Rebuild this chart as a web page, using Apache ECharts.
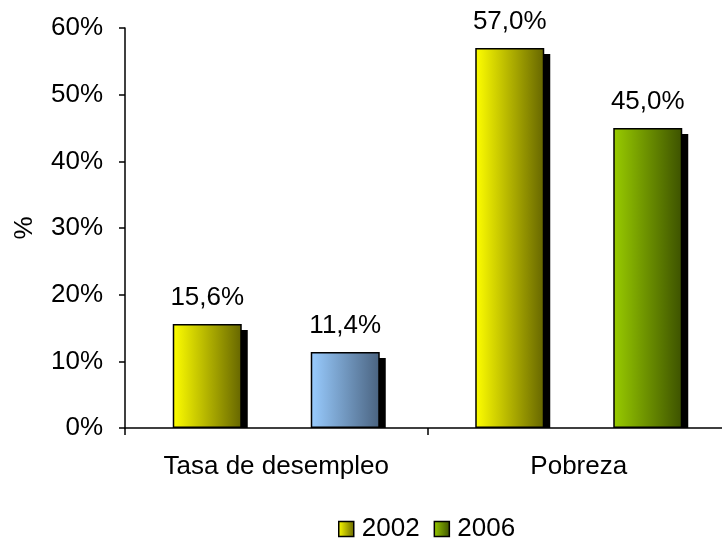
<!DOCTYPE html>
<html>
<head>
<meta charset="utf-8">
<script src="https://cdn.jsdelivr.net/npm/echarts@6/dist/echarts.min.js"></script>
<style>
  html, body { margin: 0; padding: 0; background: #fff; }
  #chart { width: 722px; height: 540px; }
</style>
</head>
<body>
<div id="chart"></div>
<script>
// categorias y valores
const categories = ["Tasa de desempleo", "Pobreza"];
const years = ["2002", "2006"];
const values2002 = [15.6, 57.0];
const values2006 = [11.4, 45.0];
const yTicks = { min: 0, max: 60, interval: 10 };

const font = "'Liberation Sans', Arial, sans-serif";
const fs = 26;

function grad(c1, c2) {
  return new echarts.graphic.LinearGradient(0, 0, 1, 0, [
    { offset: 0, color: c1 },
    { offset: 1, color: c2 }
  ]);
}

const yellow = grad("#ffff00", "#666600");
const green = grad("#99cc00", "#3d5200");
const blue = grad("#99ccff", "#4a6380");

function fmt(p) {
  return p.value.toFixed(1).replace(".", ",") + "%";
}

const barW = 69;
const gapRatio = 1.0;

const edge = { borderColor: "#000", borderWidth: 1.5 };

const labelStyle = {
  show: true,
  position: "top",
  distance: 13,
  formatter: fmt,
  fontFamily: font,
  fontSize: fs,
  color: "#000"
};

// sombra negra desplazada, dibujada con las escalas del eje
function shadowSeries(values, idx) {
  return {
    name: years[idx] + " sombra",
    type: "custom",
    z: 1,
    silent: true,
    data: values.map((v, i) => [i, v]),
    renderItem: function (params, api) {
      const c = api.coord([api.value(0), api.value(1)]);
      const base = api.coord([api.value(0), 0]);
      const total = barW * 2 + barW * gapRatio;
      const center = c[0] - total / 2 + barW / 2 + idx * (barW + barW * gapRatio);
      const off = 6;
      return {
        type: "rect",
        shape: {
          x: center - barW / 2 + off,
          y: c[1] + off,
          width: barW,
          height: base[1] - c[1] - off
        },
        style: { fill: "#000" }
      };
    }
  };
}

const chart = echarts.init(document.getElementById("chart"));
chart.setOption({
  animation: false,
  textStyle: { fontFamily: font },
  grid: {
    left: 125, width: 605, top: 28, bottom: 112,
    containLabel: false,
    outerBoundsMode: "none"
  },
  legend: {
    left: 333,
    top: 511,
    itemWidth: 15,
    itemHeight: 15,
    itemGap: 14,
    icon: "rect",
    textStyle: { fontFamily: font, fontSize: fs, color: "#000", padding: [0, 0, 0, 3] },
    itemStyle: { borderColor: "#000", borderWidth: 1.5 },
    data: years
  },
  xAxis: {
    type: "category",
    data: categories,
    z: 5,
    axisLine: { lineStyle: { color: "#000", width: 1.5 } },
    axisTick: { show: true, length: 7, lineStyle: { color: "#000", width: 1.5 } },
    axisLabel: { margin: 26, fontFamily: font, fontSize: fs, color: "#000" }
  },
  yAxis: {
    type: "value",
    min: yTicks.min,
    max: yTicks.max,
    interval: yTicks.interval,
    name: "%",
    nameLocation: "middle",
    nameGap: 87,
    nameRotate: 90,
    nameTextStyle: { fontFamily: font, fontSize: fs, color: "#000" },
    axisLine: { show: true, lineStyle: { color: "#000", width: 1.5 } },
    axisTick: { show: true, length: 6, lineStyle: { color: "#000", width: 1.5 } },
    splitLine: { show: false },
    axisLabel: {
      margin: 22,
      fontFamily: font,
      fontSize: fs,
      color: "#000",
      formatter: "{value}%"
    }
  },
  series: [
    shadowSeries(values2002, 0),
    shadowSeries(values2006, 1),
    {
      name: years[0],
      type: "bar",
      z: 2,
      barWidth: barW,
      barGap: (gapRatio * 100) + "%",
      data: values2002,
      itemStyle: Object.assign({ color: yellow }, edge),
      label: labelStyle
    },
    {
      name: years[1],
      type: "bar",
      z: 2,
      barWidth: barW,
      barGap: (gapRatio * 100) + "%",
      data: values2006.map((v, i) => i === 0
        ? { value: v, itemStyle: { color: blue } }
        : v),
      itemStyle: Object.assign({ color: green }, edge),
      label: labelStyle
    }
  ]
});
</script>
</body>
</html>
